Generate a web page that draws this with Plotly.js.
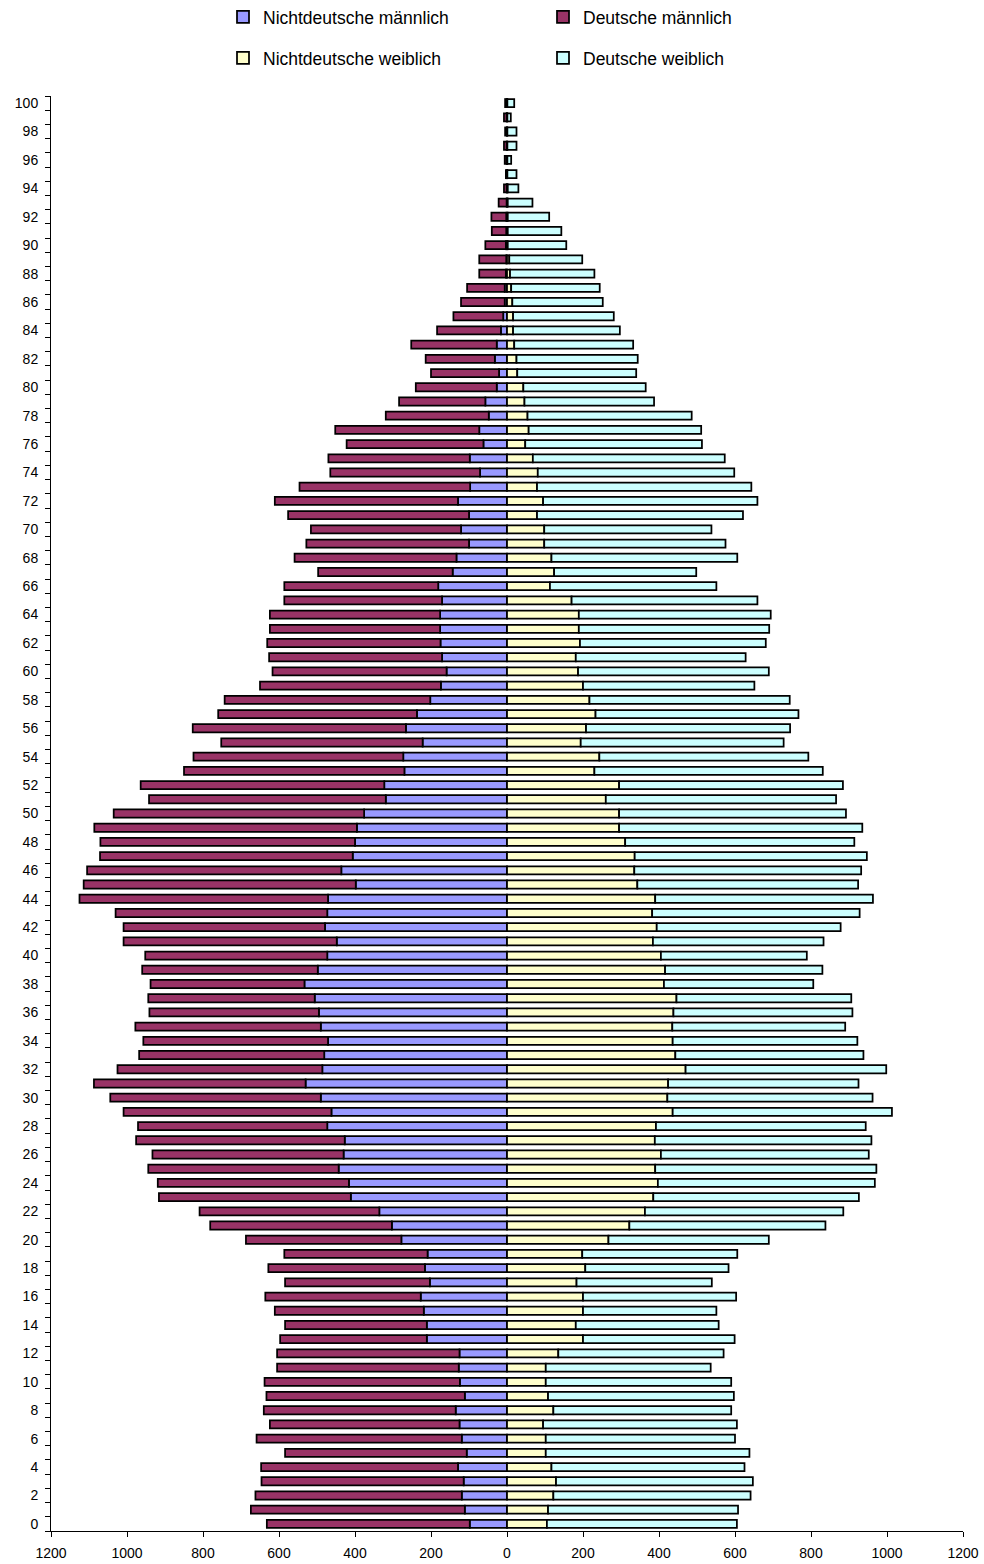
<!DOCTYPE html>
<html>
<head>
<meta charset="utf-8">
<script src="https://cdn.plot.ly/plotly-3.0.1.min.js"></script>
<style>
  html, body { margin: 0; padding: 0; background: #ffffff; }
  #chart { width: 984px; height: 1564px; }
</style>
</head>
<body>
<div id="chart"></div>
<script>
// Age categories (0 .. 100)
const ages = [0,1,2,3,4,5,6,7,8,9,10,11,12,13,14,15,16,17,18,19,20,21,22,23,24,25,26,27,28,29,30,31,32,33,34,35,36,37,38,39,40,41,42,43,44,45,46,47,48,49,50,51,52,53,54,55,56,57,58,59,60,61,62,63,64,65,66,67,68,69,70,71,72,73,74,75,76,77,78,79,80,81,82,83,84,85,86,87,88,89,90,91,92,93,94,95,96,97,98,99,100];

// Series values (persons), index = age
const nichtdeutscheMaennlich = [98,111,119,114,129,106,119,125,135,111,124,127,125,211,211,219,227,203,216,209,278,303,336,411,416,443,430,427,473,462,490,530,486,481,471,490,495,506,533,498,473,448,479,473,471,398,436,406,400,395,376,319,323,270,273,222,266,237,202,174,159,171,175,176,176,171,181,143,133,100,121,100,129,97,71,98,62,73,48,57,27,21,32,27,16,10,6,6,3,2,3,2,2,1,1,0,1,1,1,1,1];
const deutscheMaennlich = [534,563,543,532,518,478,540,499,505,522,514,478,480,386,373,392,409,381,412,377,409,478,473,505,503,501,503,549,498,547,554,557,539,487,486,488,446,438,405,462,479,561,530,557,654,716,669,665,670,691,659,623,641,580,552,530,561,523,541,476,458,455,456,448,448,415,405,354,426,428,395,476,482,449,394,372,360,379,271,227,213,179,182,225,168,131,115,99,70,71,54,38,39,21,7,3,5,7,4,7,4];
const nichtdeutscheWeiblich = [105,108,122,129,117,102,102,95,122,108,102,102,135,200,181,200,200,183,206,198,267,322,363,385,397,390,405,389,392,436,422,424,470,443,436,435,438,446,413,416,405,384,394,382,390,343,335,336,311,295,295,260,295,230,243,194,208,233,217,200,187,181,192,189,189,170,113,124,117,98,98,79,95,79,81,68,48,57,54,46,43,27,25,19,16,16,14,11,8,6,2,2,2,2,2,1,1,1,1,1,1];
const deutscheWeiblich = [500,500,519,518,508,536,498,510,468,489,488,434,435,399,376,351,403,356,377,408,422,516,522,541,571,582,547,570,552,577,540,501,528,495,486,455,471,460,393,414,384,449,484,546,573,581,597,611,603,640,597,606,589,601,550,534,537,534,527,451,502,447,489,501,505,489,438,374,489,477,440,542,564,564,517,505,465,454,432,341,322,313,319,313,281,265,238,233,222,192,154,141,109,65,28,24,10,24,24,9,18];

// Series names and colours
const seriesNames = ["Nichtdeutsche männlich", "Deutsche männlich", "Nichtdeutsche weiblich", "Deutsche weiblich"];
const seriesColors = ["#9999FF", "#993366", "#FFFFCC", "#CCFFFF"];

// Axis ticks
const xTickVals = [-1200,-1000,-800,-600,-400,-200,0,200,400,600,800,1000,1200];
const xTickText = ["1200","1000","800","600","400","200","0","200","400","600","800","1000","1200"];
const yTickVals = [0,2,4,6,8,10,12,14,16,18,20,22,24,26,28,30,32,34,36,38,40,42,44,46,48,50,52,54,56,58,60,62,64,66,68,70,72,74,76,78,80,82,84,86,88,90,92,94,96,98,100];

const FONT = "Liberation Sans, Arial, sans-serif";
const neg = a => a.map(v => -v);

const seriesValues = [neg(nichtdeutscheMaennlich), neg(deutscheMaennlich), nichtdeutscheWeiblich, deutscheWeiblich];
const legendIds = ["legend", "legend2", "legend3", "legend4"];

const traces = seriesValues.map((vals, i) => ({
  type: "bar",
  orientation: "h",
  name: seriesNames[i],
  y: ages,
  x: vals,
  legend: legendIds[i],
  marker: { color: seriesColors[i], line: { color: "#000000", width: 1.75 } },
  hoverinfo: "skip"
}));

function legendAt(x, y) {
  return {
    xref: "container", yref: "container",
    x: x, y: y, xanchor: "left", yanchor: "middle",
    bgcolor: "rgba(0,0,0,0)", borderwidth: 0,
    font: { family: FONT, size: 17.5, color: "#000000" }
  };
}

const layout = {
  width: 984,
  height: 1564,
  paper_bgcolor: "#ffffff",
  plot_bgcolor: "#ffffff",
  margin: { l: 51, r: 21, t: 96, b: 33, pad: 0, autoexpand: false },
  barmode: "relative",
  bargap: 0.43,
  showlegend: true,
  legend: legendAt(223/984, 1 - 17/1564),
  legend2: legendAt(543/984, 1 - 17/1564),
  legend3: legendAt(223/984, 1 - 58/1564),
  legend4: legendAt(543/984, 1 - 58/1564),
  font: { family: FONT, size: 14, color: "#000000" },
  xaxis: {
    range: [-1200, 1200],
    tickmode: "array",
    tickvals: xTickVals,
    ticktext: xTickText,
    ticks: "outside",
    ticklen: 5,
    tickwidth: 1,
    tickcolor: "#000000",
    ticklabelstandoff: 4,
    showline: true,
    linecolor: "#000000",
    linewidth: 1,
    showgrid: false,
    zeroline: false,
    automargin: false,
    tickfont: { family: FONT, size: 14, color: "#000000" },
    fixedrange: true
  },
  yaxis: {
    range: [-0.5, 100.5],
    tickmode: "array",
    tickvals: yTickVals,
    ticks: "outside",
    ticklen: 9,
    tickcolor: "rgba(0,0,0,0)",
    minor: { tickmode: "linear", tick0: -0.5, dtick: 1, ticks: "outside", ticklen: 5, tickwidth: 1, tickcolor: "#000000", showgrid: false },
    showline: true,
    linecolor: "#000000",
    linewidth: 1,
    showgrid: false,
    zeroline: false,
    automargin: false,
    tickfont: { family: FONT, size: 14, color: "#000000" },
    fixedrange: true
  }
};

Plotly.newPlot("chart", traces, layout, { displayModeBar: false, staticPlot: true });
</script>
</body>
</html>
